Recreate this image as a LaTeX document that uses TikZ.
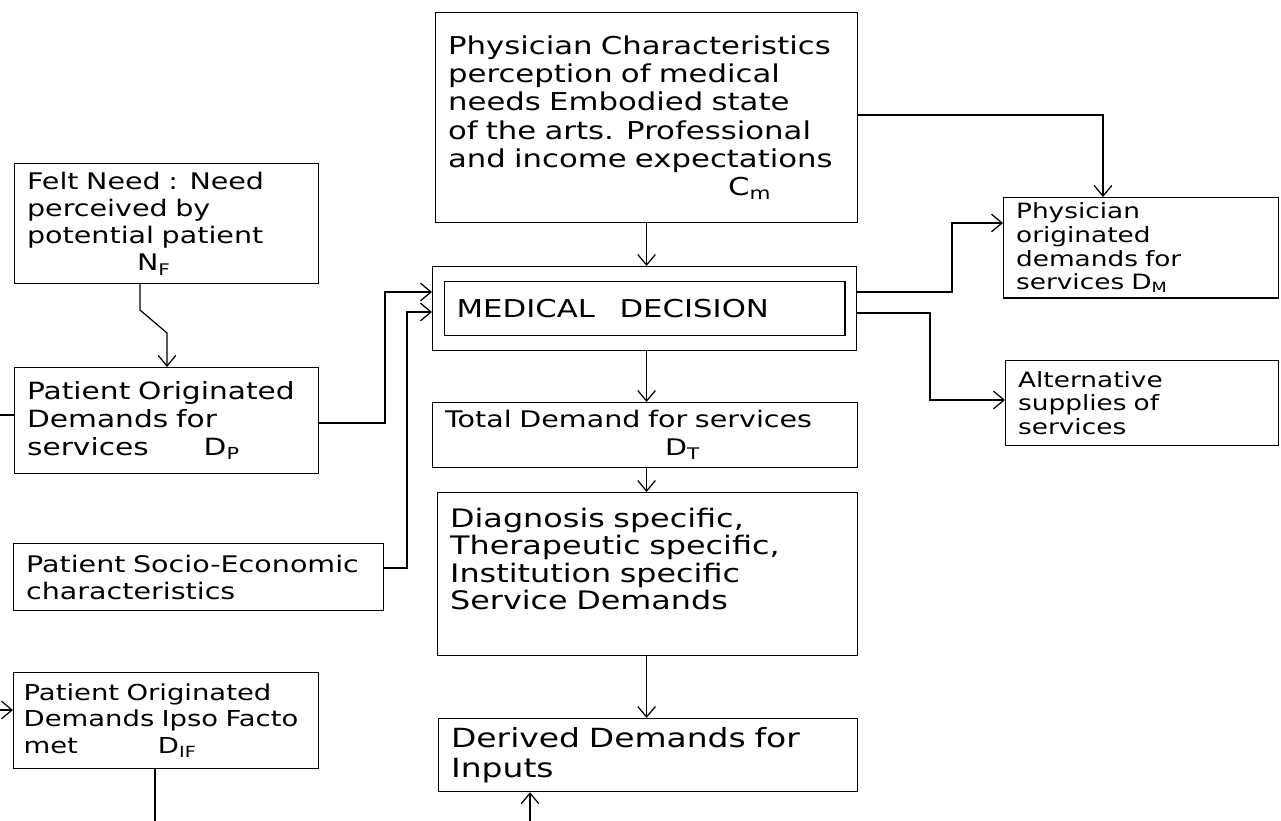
\documentclass[tikz,border=0pt]{standalone}
\usepackage{fontspec}
\setmainfont[FakeStretch=1.25]{DejaVu Sans}
\usetikzlibrary{arrows.meta}

\begin{document}
\begin{tikzpicture}[x=0.02cm, y=-0.02cm, >={Straight Barb[length=6pt,width=10pt]},
  line width=0.7pt,
  box/.style={draw, anchor=north west, align=left, inner xsep=0.25cm, inner ysep=0.1cm,
    font=\fontsize{13}{15.5}\selectfont}]

  \useasboundingbox (0,0) rectangle (1281,821);

  % top and centre column
  \node (phys) at (435,12) [box, text width=7.94cm, minimum height=4.2cm,
    font=\fontsize{14}{16}\selectfont]
    {Physician Characteristics\\ perception of medical\\ needs Embodied state\\
     of the arts. Professional\\ and income expectations\\ \hspace*{5.6cm}C\textsubscript{m}};
  \node (md) at (432,266) [box, minimum width=8.48cm, minimum height=1.68cm] {};
  \node (mdin) at (md.center) [draw, minimum width=8.02cm, minimum height=1.08cm,
    inner xsep=0.25cm, text width=7.52cm, align=left, font=\fontsize{14}{16}\selectfont]
    {MEDICAL\quad DECISION};
  \node (dt) at (432,402) [box, text width=8cm, minimum height=1.3cm]
    {Total Demand for services\\ \hspace*{4.4cm}D\textsubscript{T}};
  \node (diag) at (437,492) [box, text width=7.9cm, minimum height=3.26cm,
    font=\fontsize{14.5}{15.5}\selectfont]
    {Diagnosis specific,\\ Therapeutic specific,\\ Institution specific\\ Service Demands\\[2pt]\mbox{}};
  \node (der) at (438,718) [box, text width=7.88cm, minimum height=1.46cm,
    font=\fontsize{15}{17}\selectfont]
    {Derived Demands for\\ Inputs};

  % left column
  \node (felt) at (14,163) [box, text width=5.58cm, minimum height=2.4cm]
    {Felt Need : Need\\ perceived by\\ potential patient\\ \hspace*{2.2cm}N\textsubscript{F}};
  \node (dp) at (14,367) [box, text width=5.58cm, minimum height=2.12cm,
    font=\fontsize{13.5}{16}\selectfont]
    {Patient Originated\\ Demands for\\ services\hspace{1.1cm}D\textsubscript{P}};
  \node (socio) at (13,543) [box, text width=6.9cm, minimum height=1.34cm]
    {Patient Socio-Economic\\ characteristics};
  \node (dif) at (13,672) [box, text width=5.7cm, minimum height=1.92cm, inner xsep=0.2cm,
    font=\fontsize{12.5}{15}\selectfont]
    {Patient Originated\\ Demands Ipso Facto\\ met\hspace{1.6cm}D\textsubscript{IF}};

  % right column
  \node (dm) at (1003,197) [box, text width=5cm, minimum height=1.88cm,
    font=\fontsize{12}{13.5}\selectfont]
    {Physician\\ originated\\ demands for\\ services D\textsubscript{M}};
  \node (alt) at (1005,360) [box, text width=4.96cm, minimum height=1.7cm,
    font=\fontsize{12}{13.5}\selectfont]
    {Alternative\\ supplies of\\ services};

  % bends
  \coordinate (fbend1) at (140,310);
  \coordinate (fbend2) at (167,333);
  \coordinate (dpturn) at (385,423);
  \coordinate (mdin1) at (385,292);
  \coordinate (seturn) at (407,568);
  \coordinate (mdin2) at (407,312);
  \coordinate (pturn) at (1103,115);
  \coordinate (mout1) at (952,292);
  \coordinate (dmin) at (952,223);
  \coordinate (mout2) at (930,313);
  \coordinate (altin) at (930,400);
  \coordinate (lefttick) at (0,415);
  \coordinate (difin) at (0,710);
  \coordinate (difout) at (155,821);
  \coordinate (derin) at (530,821);

  \draw [->] (phys.south) -- (md.north -| phys.south);
  \draw [->] (md.south -| phys.south) -- (dt.north -| phys.south);
  \draw [->] (dt.south -| phys.south) -- (diag.north -| phys.south);
  \draw [->] (diag.south -| phys.south) -- (der.north -| phys.south);
  \draw [->] (felt.south -| fbend1) -- (fbend1) -- (fbend2) -- (dp.north -| fbend2);
  \draw [->] (dp.east |- dpturn) -- (dpturn) -- (mdin1) -- (md.west |- mdin1);
  \draw [->] (socio.east |- seturn) -- (seturn) -- (mdin2) -- (md.west |- mdin2);
  \draw [->] (phys.east |- pturn) -- (pturn) -- (dm.north -| pturn);
  \draw [->] (md.east |- mout1) -- (mout1) -- (dmin) -- (dm.west |- dmin);
  \draw [->] (md.east |- mout2) -- (mout2) -- (altin) -- (alt.west |- altin);

  \draw (lefttick) -- (dp.west |- lefttick);
  \draw [->] (difin) -- (dif.west |- difin);
  \draw (dif.south -| difout) -- (difout);
  \draw [->] (derin) -- (der.south -| derin);

\end{tikzpicture}
\end{document}
